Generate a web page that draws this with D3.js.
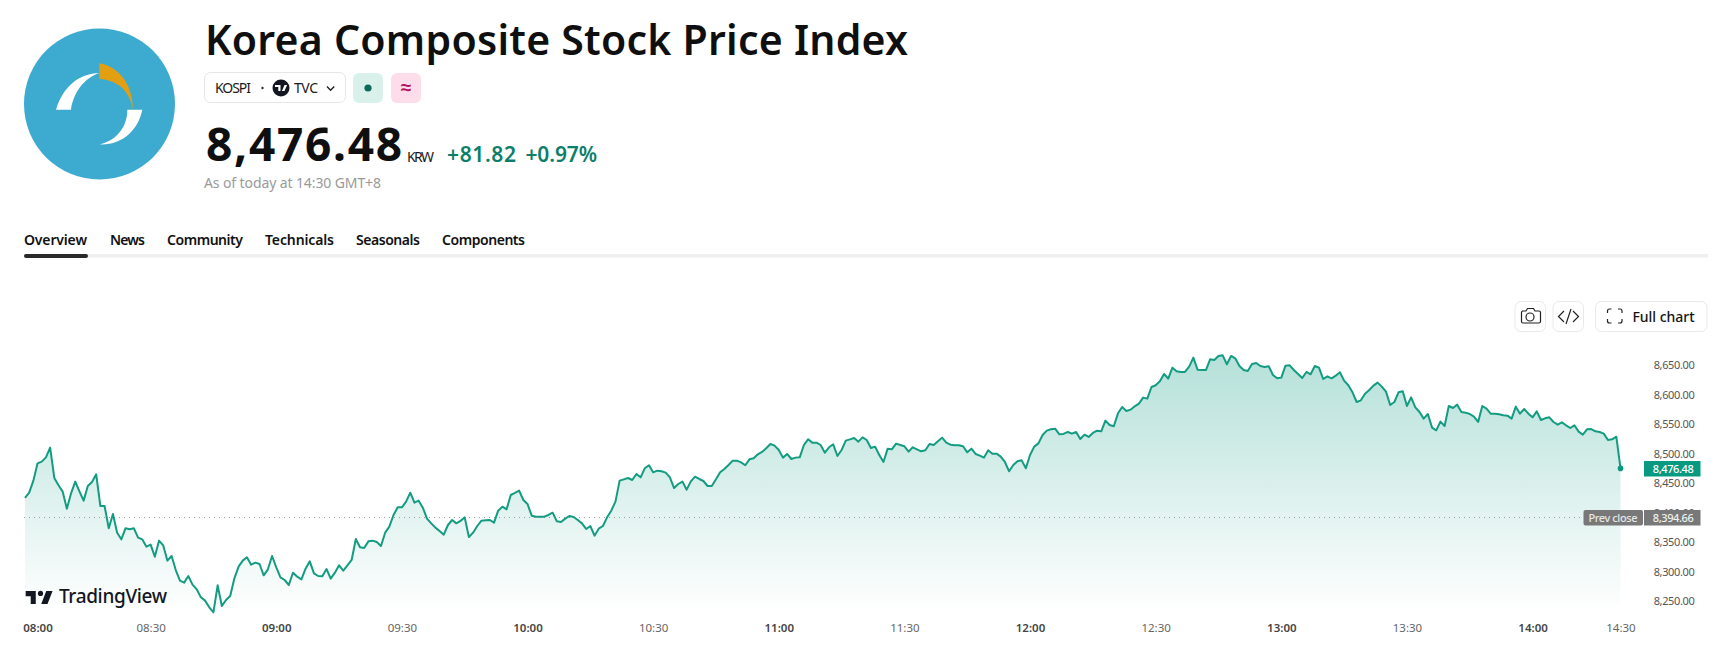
<!DOCTYPE html>
<html lang="en">
<head>
<meta charset="utf-8">
<title>Korea Composite Stock Price Index</title>
<script src="https://cdn.jsdelivr.net/npm/d3@7"></script>
<style>
  html, body { margin: 0; padding: 0; background: #fff; overflow: hidden; }
  svg { display: block; }
  text { font-family: "Noto Sans", sans-serif; }
  .tick text { font-family: "Noto Sans", sans-serif; }
</style>
</head>
<body>
<svg id="page" width="1719" height="656"></svg>
<script>
// KOSPI closes, one per session bar, from the open to the latest print.
const closes = [
  8426.3,8435.3,8455.7,8485.0,8487.9,8495.2,8511.6,8460.2,8447.8,8437.0,
  8408.2,8434.2,8454.0,8437.6,8421.8,8446.6,8453.4,8466.4,8412.7,8412.7,
  8374.9,8399.2,8367.5,8356.2,8374.9,8373.2,8374.9,8359.1,8356.2,8343.8,
  8347.2,8326.8,8354.0,8346.1,8320.1,8328.0,8304.2,8286.2,8282.8,8294.1,
  8279.4,8271.5,8257.9,8252.3,8241.0,8232.5,8278.3,8243.2,8253.4,8260.2,
  8290.1,8309.9,8320.1,8325.7,8313.3,8316.7,8314.4,8295.2,8305.4,8328.0,
  8308.8,8291.8,8287.3,8278.8,8299.7,8292.9,8288.4,8306.5,8318.9,8298.6,
  8294.1,8293.5,8305.9,8289.6,8299.7,8312.2,8303.1,8312.2,8321.2,8356.8,
  8342.7,8341.5,8352.8,8354.0,8351.7,8344.9,8367.5,8377.7,8397.5,8410.5,
  8410.5,8420.1,8435.3,8418.4,8421.8,8409.9,8391.3,8383.3,8376.0,8370.4,
  8364.1,8380.5,8389.0,8383.3,8387.3,8393.5,8360.2,8367.5,8378.8,8387.9,
  8388.4,8389.0,8384.5,8404.8,8411.6,8407.1,8431.4,8434.8,8438.7,8422.9,
  8416.1,8396.3,8394.6,8394.6,8394.6,8397.5,8401.4,8386.7,8385.6,8391.3,
  8395.8,8394.1,8389.0,8383.3,8373.7,8378.8,8362.4,8374.3,8378.8,8393.5,
  8404.8,8420.1,8455.7,8457.9,8460.2,8456.8,8467.0,8461.3,8476.6,8481.7,
  8469.8,8472.6,8471.5,8469.2,8461.3,8443.2,8450.0,8454.0,8440.4,8454.5,
  8462.4,8458.5,8455.1,8446.6,8446.6,8457.9,8469.8,8475.4,8482.2,8489.6,
  8489.6,8486.7,8481.7,8491.8,8493.5,8500.3,8504.3,8510.5,8517.8,8515.0,
  8507.6,8494.7,8500.9,8492.4,8494.7,8495.2,
  8516.1,8525.7,8520.1,8520.1,8516.1,8503.1,8512.2,8517.3,8497.5,8507.6,
  8523.5,8525.7,8528.0,8521.8,8529.1,8524.6,8511.0,8513.3,8499.2,8487.3,
  8509.9,8508.8,8518.4,8516.1,8513.9,8504.8,8512.2,8508.8,8505.4,8507.1,
  8517.8,8516.1,8522.3,8528.6,8520.1,8516.7,8515.6,8515.6,8513.9,8503.7,
  8509.9,8500.9,8498.0,8494.7,8507.1,8501.4,8501.4,8496.3,8487.3,8471.5,
  8482.2,8488.4,8490.1,8476.6,8499.2,8513.3,8518.9,8533.1,8540.4,8542.7,
  8543.8,8534.2,8534.8,8538.2,8535.3,8538.2,8526.3,8533.6,8529.7,8536.5,
  8540.4,8539.3,8557.4,8550.0,8547.8,8569.8,8580.5,8573.8,8576.0,8581.7,
  8586.2,8596.4,8594.7,8614.4,8617.3,8624.0,8636.5,8628.6,8647.2,8641.0,
  8639.9,8639.9,8648.9,8664.2,8643.8,
  8643.2,8643.2,8661.3,8660.2,8667.0,8668.1,8652.9,8667.0,8663.0,8650.0,
  8643.2,8641.6,8653.4,8655.1,8650.0,8648.3,8649.5,8634.8,8629.1,8630.3,
  8650.6,8651.2,8643.2,8636.5,8629.7,8639.9,8635.9,8650.0,8647.2,8628.0,
  8632.5,8629.1,8633.6,8639.3,8625.2,8617.3,8605.4,8589.0,8591.8,8603.1,
  8609.3,8616.7,8621.8,8615.0,8606.5,8583.9,8589.0,8605.4,8607.1,8582.2,
  8596.9,8580.0,8572.1,8560.8,8568.7,8545.5,8541.0,8555.7,8548.3,8582.2,
  8578.8,8584.5,8572.1,8570.9,8568.7,8564.1,8555.1,8582.2,8577.7,8569.2,
  8569.2,8568.1,8566.4,8565.8,8560.8,8581.1,8569.2,8577.1,8569.2,8563.0,
  8573.2,8558.5,8561.3,8563.0,8555.1,8550.6,8554.5,8549.5,8544.9,8549.5,
  8538.7,8533.6,8542.7,8543.2,8539.3,8538.2,8535.3,8524.6,8525.7,8530.2,
  8476.48
];
const lastPrice = 8476.48;
const prevClose = 8394.66;
const priceTicks = [8250, 8300, 8350, 8400, 8450, 8500, 8550, 8600, 8650];
const timeBars = [0, 30, 60, 90, 120, 150, 180, 210, 240, 270, 300, 330, 360, 381];
const timeLabels = ["08:00","08:30","09:00","09:30","10:00","10:30","11:00","11:30","12:00","12:30","13:00","13:30","14:00","14:30"];
const tabs = ["Overview", "News", "Community", "Technicals", "Seasonals", "Components"];

const GREEN = "#089981";
const svg = d3.select("#page");

function label(parent, str, x, y, size, fill, weight, anchor) {
  return parent.append("text").attr("x", x).attr("y", y)
    .attr("font-size", size).attr("fill", fill)
    .attr("font-weight", weight || 400)
    .attr("text-anchor", anchor || "start").text(str);
}

// ---- Index emblem ----
const emblem = svg.append("g");
emblem.append("circle").attr("cx", 99.5).attr("cy", 104).attr("r", 75.5).attr("fill", "#3cabcf");
const arcs = emblem.append("g").attr("transform", "translate(10,15) scale(0.3333)");
arcs.append("path").attr("fill", "#fff").attr("d", "M268,174 C205,176 160,215 138,284 L183,284 C190,235 220,190 268,174 Z");
arcs.append("path").attr("fill", "#fff").attr("d", "M352,284 L397,284 C385,345 335,392 268,388 C315,378 352,340 352,284 Z");
arcs.append("path").attr("fill", "#e29f12").attr("d", "M268,145 C325,155 368,205 369,284 C360,230 325,195 268,192 Z");

// ---- Heading block ----
label(svg, "Korea Composite Stock Price Index", 205, 55, 41, "#0f0f0f", 600).attr("textLength", 703).attr("lengthAdjust", "spacing");

svg.append("rect").attr("x", 204.5).attr("y", 72.5).attr("width", 141).attr("height", 30).attr("rx", 6)
  .attr("fill", "#fff").attr("stroke", "#e6e6e6");
label(svg, "KOSPI", 215, 93, 14, "#1a1a1a").attr("textLength", 36);
svg.append("circle").attr("cx", 262.5).attr("cy", 88).attr("r", 1.2).attr("fill", "#333");
svg.append("circle").attr("cx", 281).attr("cy", 88).attr("r", 8.5).attr("fill", "#131722");
svg.append("path").attr("fill", "#fff").attr("d", "M275,85 h5.5 v6 h-2.2 v-4 h-3.3 Z M284.5,85 h2.6 l-2.6,6 h-2.6 Z");
label(svg, "TVC", 294, 93, 14, "#1a1a1a").attr("textLength", 24);
svg.append("path").attr("fill", "none").attr("stroke", "#222").attr("stroke-width", 1.4).attr("d", "M327,86.5 l3.6,3.8 l3.6,-3.8");

svg.append("rect").attr("x", 353).attr("y", 73).attr("width", 30).attr("height", 30).attr("rx", 6).attr("fill", "#daf0eb");
svg.append("circle").attr("cx", 368).attr("cy", 88).attr("r", 3.6).attr("fill", "#0b6b58");
svg.append("rect").attr("x", 391).attr("y", 73).attr("width", 30).attr("height", 30).attr("rx", 6).attr("fill", "#fcdde9");
label(svg, "≈", 406, 94, 19, "#b5135f", 700, "middle");

label(svg, d3.format(",.2f")(lastPrice), 206, 161, 46, "#0f0f0f", 700).attr("textLength", 196).attr("lengthAdjust", "spacing");
label(svg, "KRW", 407, 162, 14, "#1a1a1a").attr("textLength", 27);
label(svg, "+81.82", 447, 162, 21, "#0b7f6a", 600).attr("textLength", 69).attr("lengthAdjust", "spacing");
label(svg, "+0.97%", 525.5, 162, 21, "#0b7f6a", 600).attr("textLength", 71.5).attr("lengthAdjust", "spacing");
label(svg, "As of today at 14:30 GMT+8", 204, 188, 14, "#9a9a9a").attr("textLength", 177);

// ---- Section tabs ----
const tabSpans = [[24, 63], [110, 35], [167, 76], [265, 69], [356, 64], [442, 83]];
svg.selectAll("text.tab").data(tabs).join("text").attr("class", "tab")
  .attr("x", (d, i) => tabSpans[i][0]).attr("y", 245)
  .attr("textLength", (d, i) => tabSpans[i][1])
  .attr("font-size", 14).attr("font-weight", 600).attr("fill", "#111").text(d => d);
svg.append("rect").attr("x", 24).attr("y", 254).attr("width", 1684).attr("height", 3.5).attr("fill", "#f0f0f0");
svg.append("rect").attr("x", 24).attr("y", 254).attr("width", 64).attr("height", 4).attr("rx", 2).attr("fill", "#2a2a2a");

// ---- Toolbar buttons ----
[[1515, 30.5], [1553, 30.5], [1595.5, 111.5]].forEach(([x, w]) => {
  svg.append("rect").attr("x", x).attr("y", 301.5).attr("width", w).attr("height", 30).attr("rx", 6)
    .attr("fill", "#fff").attr("stroke", "#e9e9e9");
});
svg.append("path").attr("fill", "none").attr("stroke", "#222").attr("stroke-width", 1.2)
  .attr("d", "M1522,311 h4 l1.5,-2.5 h6 l1.5,2.5 h4 a1.5,1.5 0 0 1 1.5,1.5 v9 a1.5,1.5 0 0 1 -1.5,1.5 h-16 a1.5,1.5 0 0 1 -1.5,-1.5 v-9 a1.5,1.5 0 0 1 1.5,-1.5 Z");
svg.append("circle").attr("cx", 1530).attr("cy", 317).attr("r", 4).attr("fill", "none").attr("stroke", "#222").attr("stroke-width", 1.2);
svg.append("path").attr("fill", "none").attr("stroke", "#222").attr("stroke-width", 1.2)
  .attr("d", "M1564,311 l-5.5,5.5 l5.5,5.5 M1573,311 l5.5,5.5 l-5.5,5.5 M1571,309 l-5,15");
svg.append("path").attr("fill", "none").attr("stroke", "#222").attr("stroke-width", 1.2)
  .attr("d", "M1607.5,313 v-2 a2,2 0 0 1 2,-2 h2 M1618,309 h2 a2,2 0 0 1 2,2 v2 M1622,319 v2 a2,2 0 0 1 -2,2 h-2 M1611.5,323 h-2 a2,2 0 0 1 -2,-2 v-2");
label(svg, "Full chart", 1632.5, 321.5, 14, "#131313", 500).attr("textLength", 62);

// ---- Price chart ----
const x = d3.scaleLinear().domain([0, closes.length - 1]).range([25, 1620.5]);
const y = d3.scaleLinear().domain([8250, 8650]).range([602, 366]);
const paneBottom = 613;

const defs = svg.append("defs");
const grad = defs.append("linearGradient").attr("id", "areaFade")
  .attr("gradientUnits", "userSpaceOnUse").attr("x1", 0).attr("x2", 0).attr("y1", 355).attr("y2", paneBottom);
grad.append("stop").attr("offset", 0).attr("stop-color", GREEN).attr("stop-opacity", 0.3);
grad.append("stop").attr("offset", 1).attr("stop-color", GREEN).attr("stop-opacity", 0);

const area = d3.area().x((d, i) => x(i)).y0(paneBottom).y1(d => y(d));
const line = d3.line().x((d, i) => x(i)).y(d => y(d));

svg.append("path").datum(closes).attr("d", area).attr("fill", "url(#areaFade)");

svg.append("line").attr("x1", 24).attr("x2", 1583)
  .attr("y1", 517.5).attr("y2", 517.5)
  .attr("stroke", "#9aa0a0").attr("stroke-width", 1).attr("stroke-dasharray", "1 4");

svg.append("path").datum(closes).attr("d", line)
  .attr("fill", "none").attr("stroke", "#149c82").attr("stroke-width", 2).attr("stroke-linejoin", "round");
svg.append("circle").attr("cx", x(closes.length - 1)).attr("cy", y(lastPrice)).attr("r", 2.8).attr("fill", GREEN);

// TradingView attribution
const mark = svg.append("g");
mark.append("path").attr("fill", "#131722").attr("transform", "translate(24,585.8) scale(0.84,0.87)")
  .attr("d", "M14 6H2v6h6v9h6V6z M34 6h-7.5l-6 15H28z");
mark.append("circle").attr("cx", 40.5).attr("cy", 593.4).attr("r", 2.6).attr("fill", "#131722");
label(mark, "TradingView", 59, 603, 19, "#131722", 500).attr("textLength", 108);

// Price scale, with its 8,400.00 tick sitting beneath the previous-close tag
const yAxis = svg.append("g").attr("transform", "translate(1694.7,-1)")
  .call(d3.axisLeft(y).tickValues(priceTicks).tickFormat(d3.format(",.2f")).tickSize(0).tickPadding(0));
yAxis.select(".domain").remove();
yAxis.selectAll("text").attr("font-size", 11).attr("fill", "#555").attr("text-anchor", "end").attr("textLength", 41);

// Time scale; whole hours are emphasised and the first label stays inside the pane
const xAxis = svg.append("g").attr("transform", "translate(0,623)")
  .call(d3.axisBottom(x).tickValues(timeBars).tickFormat(d => timeLabels[timeBars.indexOf(d)]).tickSize(0).tickPadding(0));
xAxis.select(".domain").remove();
xAxis.selectAll("text")
  .attr("dy", "0.8em")
  .attr("font-size", 11.5)
  .attr("fill", (d, i) => i % 2 === 0 ? "#444" : "#666")
  .attr("font-weight", (d, i) => i % 2 === 0 ? 600 : 400);
xAxis.selectAll("g.tick").filter(d => d === 0).attr("transform", "translate(38,0)");

// Latest price and previous close tags on the scale
const tag = (x0, w, top, fill, str, color) => {
  svg.append("rect").attr("x", x0).attr("y", top).attr("width", w).attr("height", 15.5).attr("fill", fill);
  label(svg, str, x0 + w / 2 + 1, top + 11.5, 11, color, 500, "middle").attr("textLength", 41);
};
tag(1644, 56.5, 461, GREEN, d3.format(",.2f")(lastPrice), "#fff");
svg.append("rect").attr("x", 1583.5).attr("y", 510).attr("width", 59.5).attr("height", 15.5).attr("rx", 2).attr("fill", "#787878");
label(svg, "Prev close", 1613, 521.5, 11, "#e6e6e6", 500, "middle").attr("textLength", 49);
tag(1644, 56.5, 510, "#787878", d3.format(",.2f")(prevClose), "#f0f0f0");
</script>
</body>
</html>
